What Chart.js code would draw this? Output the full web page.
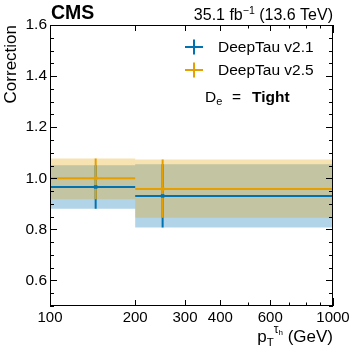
<!DOCTYPE html>
<html>
<head>
<meta charset="utf-8">
<script src="https://cdn.jsdelivr.net/npm/chart.js@4.4.1/dist/chart.umd.min.js"></script>
<style>
  html, body { margin: 0; padding: 0; background: #fff; }
</style>
</head>
<body>
<canvas id="main" width="357" height="354"></canvas>
<script>
// pT bins and the per-bin corrections
const binEdges = [100, 200, 1000];
const binCenters = [145, 250];
const v21Value = [0.966, 0.931];
const v21Low = [0.881, 0.807];
const v21High = [1.051, 1.055];
const v25Value = [1.000, 0.958];
const v25Low = [0.918, 0.845];
const v25High = [1.077, 1.073];
const xTickLabels = [100, 200, 300, 400, 600, 1000];
const yTickLabels = [0.6, 0.8, 1.0, 1.2, 1.4, 1.6];

const BLUE = '#0072b2';
const ORANGE = '#e69f00';
const FONT = '"Liberation Sans", Arial, sans-serif';

// continuous step outline (for the bands)
function stepBand(vals) {
  const pts = [];
  vals.forEach((v, i) => {
    pts.push({x: binEdges[i], y: v}, {x: binEdges[i + 1], y: v});
  });
  return pts;
}
// one horizontal segment per bin
function stepLine(vals) {
  const pts = [];
  vals.forEach((v, i) => {
    pts.push({x: binEdges[i], y: v}, {x: binEdges[i + 1], y: v}, {x: binEdges[i + 1], y: null});
  });
  return pts;
}
// vertical error bars at the bin markers
function errBars(lo, hi) {
  const pts = [];
  binCenters.forEach((c, i) => {
    pts.push({x: c, y: lo[i]}, {x: c, y: hi[i]}, {x: c, y: null});
  });
  return pts;
}
function markers(vals) {
  return binCenters.map((c, i) => ({x: c, y: vals[i]}));
}

const lineDefaults = {showLine: true, pointRadius: 0, borderWidth: 2, spanGaps: false};

// draws the frame, inward ticks and the text annotations
const decorations = {
  id: 'decorations',
  afterDraw(chart) {
    const {ctx, chartArea: a, scales: {x, y}} = chart;
    ctx.save();
    ctx.strokeStyle = '#000';
    ctx.lineWidth = 1;
    ctx.strokeRect(a.left + 0.5, a.top + 0.5, a.right - a.left - 1, a.bottom - a.top - 1);

    ctx.beginPath();
    for (let k = 10; k <= 32; k++) {
      const py = Math.round(y.getPixelForValue(k * 0.05)) + 0.5;
      const len = k % 4 === 0 ? 7 : 4;
      ctx.moveTo(a.left, py); ctx.lineTo(a.left + len, py);
      ctx.moveTo(a.right, py); ctx.lineTo(a.right - len, py);
    }
    for (let m = 1; m <= 10; m++) {
      const v = m * 100;
      const px = Math.round(x.getPixelForValue(v)) + 0.5;
      const len = (v === 100 || v === 1000) ? 8 : (xTickLabels.includes(v) ? 6 : 3.5);
      ctx.moveTo(px, a.bottom); ctx.lineTo(px, a.bottom - len);
      ctx.moveTo(px, a.top); ctx.lineTo(px, a.top + len);
    }
    ctx.stroke();

    ctx.fillStyle = '#000';
    ctx.textBaseline = 'alphabetic';
    function runs(parts, x0, base, align) {
      let w = 0;
      parts.forEach(p => { ctx.font = p.f; p.w = ctx.measureText(p.t).width; w += p.w; });
      let cx = align === 'right' ? x0 - w : x0;
      ctx.textAlign = 'left';
      parts.forEach(p => { ctx.font = p.f; ctx.fillText(p.t, cx, base + (p.dy || 0)); cx += p.w; });
    }

    // header
    runs([{t: 'CMS', f: 'bold 19.5px ' + FONT}], 51, 18.5, 'left');
    runs([
      {t: '35.1 fb', f: '16px ' + FONT},
      {t: '\u22121', f: '10.5px ' + FONT, dy: -6},
      {t: ' (13.6 TeV)', f: '16px ' + FONT}
    ], 333, 19.5, 'right');

    // axis titles
    runs([
      {t: 'p', f: '17px ' + FONT},
      {t: 'T', f: '11.5px ' + FONT, dy: 4},
      {t: '\u03c4', f: '12px ' + FONT, dy: -9},
      {t: 'h', f: '8px ' + FONT, dy: -7},
      {t: ' (GeV)', f: '17px ' + FONT}
    ], 333, 342, 'right');
    ctx.save();
    ctx.translate(16, a.top);
    ctx.rotate(-Math.PI / 2);
    ctx.font = '17px ' + FONT;
    ctx.textAlign = 'right';
    ctx.fillText('Correction', 0, 0);
    ctx.restore();

    // legend
    const items = [['DeepTau v2.1', BLUE, 47], ['DeepTau v2.5', ORANGE, 70]];
    items.forEach(([label, col, ly]) => {
      ctx.strokeStyle = col;
      ctx.lineWidth = 2;
      ctx.beginPath();
      ctx.moveTo(185, ly); ctx.lineTo(203, ly);
      ctx.moveTo(194, ly - 7.5); ctx.lineTo(194, ly + 7.5);
      ctx.stroke();
      ctx.fillStyle = '#000';
      ctx.font = '15.5px ' + FONT;
      ctx.textAlign = 'left';
      ctx.textBaseline = 'middle';
      ctx.fillText(label, 218, ly + 1);
    });
    ctx.textBaseline = 'alphabetic';
    runs([
      {t: 'D', f: '15.5px ' + FONT},
      {t: 'e', f: '11px ' + FONT, dy: 3}
    ], 205, 102, 'left');
    runs([{t: '=', f: '15.5px ' + FONT}], 232, 102, 'left');
    runs([{t: 'Tight', f: 'bold 15.5px ' + FONT}], 252, 102, 'left');
    ctx.restore();
  }
};

new Chart(document.getElementById('main'), {
  type: 'scatter',
  data: {
    datasets: [
      {data: markers(v21Value), pointRadius: 2.5, pointStyle: 'rect', backgroundColor: BLUE, borderColor: BLUE, borderWidth: 0, order: 1},
      {data: markers(v25Value), pointRadius: 2.5, pointStyle: 'rect', backgroundColor: ORANGE, borderColor: ORANGE, borderWidth: 0, order: 2},
      {...lineDefaults, data: stepLine(v25Value), borderColor: ORANGE, order: 3},
      {...lineDefaults, data: errBars(v25Low, v25High), borderColor: ORANGE, order: 3},
      {...lineDefaults, data: stepLine(v21Value), borderColor: BLUE, order: 4},
      {...lineDefaults, data: errBars(v21Low, v21High), borderColor: BLUE, order: 4},
      {...lineDefaults, data: stepBand(v25High), borderColor: 'transparent', backgroundColor: 'rgba(230,159,0,0.3)', fill: '+1', order: 8},
      {...lineDefaults, data: stepBand(v25Low), borderColor: 'transparent', fill: false, order: 8},
      {...lineDefaults, data: stepBand(v21High), borderColor: 'transparent', backgroundColor: 'rgba(0,114,178,0.3)', fill: '+1', order: 9},
      {...lineDefaults, data: stepBand(v21Low), borderColor: 'transparent', fill: false, order: 9}
    ]
  },
  options: {
    responsive: false,
    animation: false,
    layout: {padding: {left: 0, right: 24, top: 25, bottom: 0}},
    plugins: {legend: {display: false}, tooltip: {enabled: false}},
    scales: {
      x: {
        type: 'logarithmic',
        min: 100,
        max: 1000,
        grid: {display: false, drawTicks: false},
        border: {display: false},
        ticks: {
          autoSkip: false,
          maxRotation: 0,
          padding: 3,
          color: '#000',
          font: {family: FONT, size: 15},
          callback: v => xTickLabels.includes(Math.round(v)) ? String(Math.round(v)) : ''
        },
        afterFit: s => { s.height = 48; }
      },
      y: {
        min: 0.5,
        max: 1.6,
        grid: {display: false, drawTicks: false},
        border: {display: false},
        afterBuildTicks: s => { s.ticks = yTickLabels.map(v => ({value: v})); },
        ticks: {
          padding: 3,
          color: '#000',
          font: {family: FONT, size: 15.5},
          callback: v => v.toFixed(1)
        },
        afterFit: s => { s.width = 50; }
      }
    }
  },
  plugins: [decorations]
});
</script>
</body>
</html>
